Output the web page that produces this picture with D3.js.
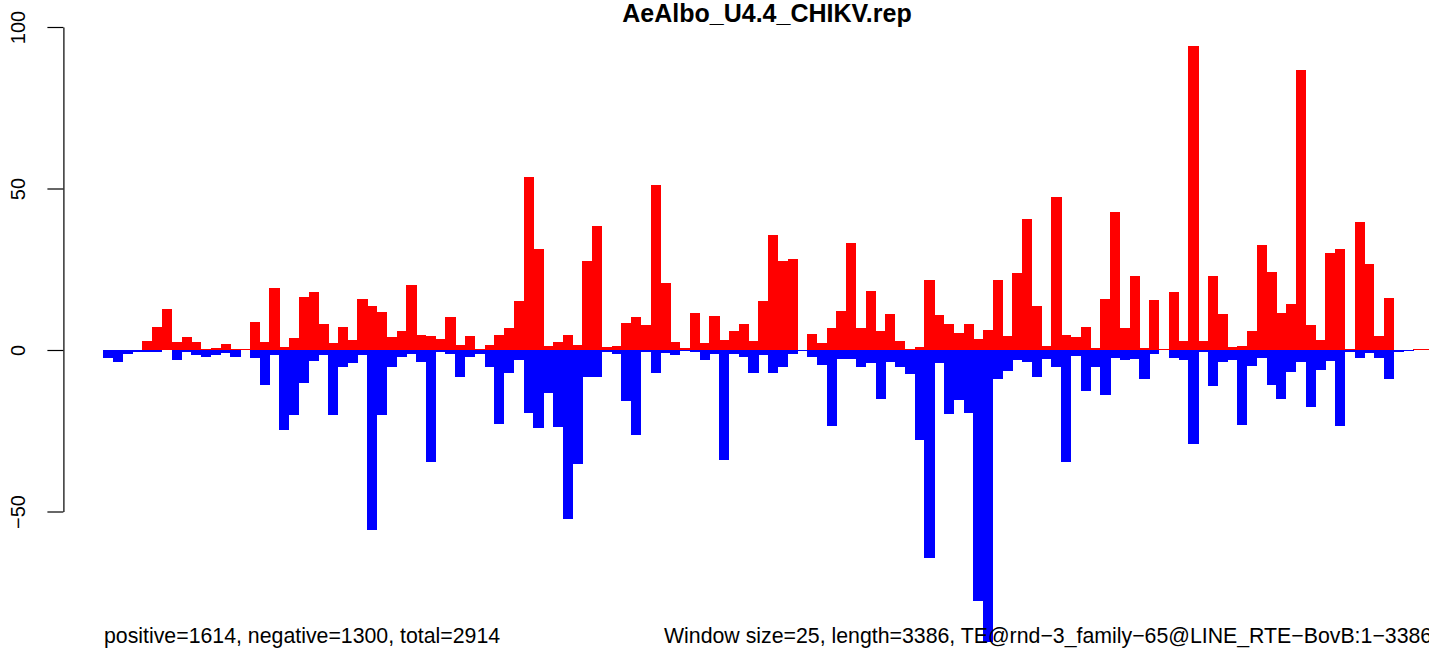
<!DOCTYPE html>
<html>
<head>
<meta charset="utf-8">
<script src="https://cdn.jsdelivr.net/npm/d3@7"></script>
<style>
  html, body { margin: 0; padding: 0; background: #ffffff; }
  svg { display: block; }
  text { font-family: "Liberation Sans", Arial, Helvetica, sans-serif; fill: #000; }
</style>
</head>
<body>
<script>
// ---- data (one value per 25-bp window, 136 windows) ----
const windows = d3.range(136);
const positive = [
  0, 0, 0, 0, 2.8, 7.2, 12.7, 2.5, 4.1, 2.5, 0.4, 0.7, 1.9, 0.4, 0.4, 8.6, 2.5,
  19.3, 1.0, 3.7, 16.4, 18.0, 8.0, 2.2, 7.2, 3.2, 15.8, 13.6, 11.7, 4.1, 5.9, 20.1, 4.7, 4.3,
  3.5, 10.2, 1.6, 4.3, 0.4, 1.6, 4.7, 6.8, 15.2, 53.6, 31.2, 1.2, 2.5, 4.7, 1.6, 27.5, 38.4,
  1.0, 1.2, 8.4, 10.2, 7.8, 51.0, 20.7, 2.5, 0.6, 11.5, 2.2, 10.5, 3.1, 5.9, 8.0, 2.8, 15.2,
  35.6, 27.5, 28.1, 0.15, 4.9, 2.2, 6.8, 12.1, 33.1, 6.8, 18.3, 5.9, 11.1, 2.8, 0.4, 1.0, 21.7,
  10.9, 8.0, 5.3, 8.0, 3.5, 6.2, 21.7, 4.3, 23.8, 40.7, 13.6, 1.2, 47.5, 4.7, 4.1, 7.2, 0.6,
  15.8, 42.7, 6.8, 23.0, 0.6, 15.6, 0.3, 18.0, 2.8, 94.0, 2.8, 23.0, 11.1, 1.0, 1.2, 5.9,
  32.5, 24.2, 11.5, 14.3, 86.6, 7.8, 3.2, 30.0, 31.3, 0.4, 39.6, 26.7, 4.3, 16.2, 0, 0.15, 0.3, 0.3
];
const negative = [
  -2.5, -3.6, -1.1, -0.5, -0.5, -0.5, 0, -3.0, -0.7, -1.7, -2.1, -1.7, -1.0, -2.1, 0, -2.5, -10.7,
  -1.5, -24.9, -20.2, -10.1, -3.3, -1.5, -20.2, -5.4, -4.0, -1.5, -55.8, -20.2, -5.4, -2.1, -1.2, -3.6, -34.6,
  -0.5, -1.1, -8.3, -2.1, -1.2, -5.2, -22.8, -7.0, -3.1, -19.4, -24.3, -13.2, -23.7, -52.3, -35.4, -8.5, -8.5,
  -0.6, -1.1, -15.9, -26.2, -0.5, -7.0, -0.9, -1.7, -0.2, -0.6, -3.0, -1.2, -34.2, -1.2, -2.1, -7.0, -1.7,
  -7.0, -5.2, -1.1, -0.15, -2.1, -4.6, -23.5, -2.7, -2.7, -5.4, -4.0, -15.1, -3.7, -5.2, -7.4, -27.8, -64.4,
  -4.0, -19.8, -15.4, -19.4, -77.8, -90.5, -9.1, -6.4, -3.0, -3.6, -8.3, -2.7, -5.2, -34.6, -1.9, -12.8, -5.2,
  -13.8, -2.5, -3.0, -2.7, -8.9, -1.1, 0, -2.5, -3.0, -29.1, -0.5, -11.0, -3.6, -3.0, -23.1, -4.8,
  -2.5, -10.7, -15.3, -6.7, -3.6, -17.8, -6.2, -3.5, -23.5, -0.5, -2.5, -0.9, -2.5, -8.9, -0.6, -0.15, 0, 0
];
const yTicks = [-50, 0, 50, 100];
const title = "AeAlbo_U4.4_CHIKV.rep";
const leftNote = "positive=1614, negative=1300, total=2914";
const rightNote = "Window size=25, length=3386, TE@rnd\u22123_family\u221265@LINE_RTE\u2212BovB:1\u22123386";

// ---- layout ----
const W = 1429, H = 651;
const barStart = 103.3, barStep = 9.775;
const axisX = 63.4;

const svg = d3.select("body").append("svg")
  .attr("width", W).attr("height", H);

const x = d3.scaleBand()
  .domain(windows)
  .range([barStart, barStart + windows.length * barStep])
  .paddingInner(0).paddingOuter(0);

const y = d3.scaleLinear().domain([-50, 100]).range([511.5, 27]);

// bars
svg.append("g").attr("shape-rendering", "crispEdges").selectAll("rect")
  .data(windows.filter(i => positive[i] > 0))
  .join("rect")
  .attr("x", i => x(i))
  .attr("width", x.bandwidth() + 0.4)
  .attr("y", i => y(positive[i]))
  .attr("height", i => Math.max(1, y(0) - y(positive[i])))
  .attr("fill", "#ff0000");

svg.append("g").attr("shape-rendering", "crispEdges").selectAll("rect")
  .data(windows.filter(i => negative[i] < 0))
  .join("rect")
  .attr("x", i => x(i))
  .attr("width", x.bandwidth() + 0.4)
  .attr("y", y(0))
  .attr("height", i => Math.max(1, y(negative[i]) - y(0)))
  .attr("fill", "#0000ff");

// y axis
const axis = svg.append("g")
  .attr("transform", `translate(${axisX},0)`)
  .call(d3.axisLeft(y).tickValues(yTicks).tickSize(16).tickSizeOuter(0).tickFormat(d3.format("d")));
axis.select(".domain").attr("stroke", "#000").attr("stroke-width", 1.2);
axis.selectAll(".tick line").attr("stroke", "#000").attr("stroke-width", 1.2);
axis.selectAll(".tick text")
  .attr("x", 0).attr("y", 0).attr("dy", null)
  .attr("transform", "translate(-38,0) rotate(-90)")
  .attr("text-anchor", "middle")
  .attr("font-size", 20)
  .attr("font-family", "Liberation Sans, Arial, sans-serif")
  .attr("fill", "#000");

// title
svg.append("text")
  .attr("x", 767).attr("y", 22)
  .attr("text-anchor", "middle")
  .attr("font-size", 25)
  .attr("font-weight", "bold")
  .text(title);

// bottom notes
svg.append("text")
  .attr("x", 104).attr("y", 643)
  .attr("font-size", 21.3)
  .text(leftNote);

svg.append("text")
  .attr("x", 664).attr("y", 643)
  .attr("font-size", 21.3)
  .text(rightNote);
</script>
</body>
</html>
